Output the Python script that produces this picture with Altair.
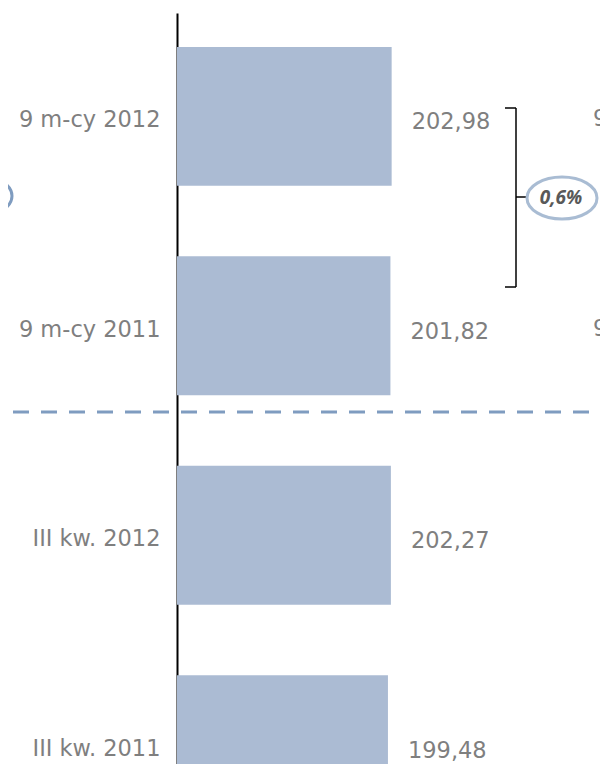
import altair as alt
import pandas as pd

categories = ["9 m-cy 2012", "9 m-cy 2011", "III kw. 2012", "III kw. 2011"]
values = [202.98, 201.82, 202.27, 199.48]
value_labels = ["202,98", "201,82", "202,27", "199,48"]
change_label = ["0,6%"]
side_categories = ["9 m-cy 2012", "9 m-cy 2011"]  # neighbouring panel, cut off on the right

df = pd.DataFrame({"cat": categories, "val": values, "lab": value_labels})
side_df = pd.DataFrame({"cat": side_categories, "lab": side_categories})
one = pd.DataFrame({"k": [0]})
chg_df = pd.DataFrame({"lab": change_label})

FONT = "DejaVu Sans"
GREY = "#7f7f7f"
BAR = "#abbbd3"


def yenc():
    return alt.Y(
        "cat:N", sort=categories, title=None,
        scale=alt.Scale(domain=categories, range=[0, 835], paddingInner=0.3365, paddingOuter=0.162),
        axis=alt.Axis(domainColor="black", domainWidth=2, ticks=False, grid=False,
                      labelFont=FONT, labelFontSize=22.5, labelColor=GREY,
                      labelPadding=17, labelOffset=4),
    )


xenc = alt.X("val:Q", scale=alt.Scale(domain=[0, 400]), axis=None)

bars = alt.Chart(df).mark_bar(color=BAR).encode(x=xenc, y=yenc())

vals = alt.Chart(df).mark_text(align="left", baseline="middle", dx=20, dy=6,
                               font=FONT, fontSize=22.5, color=GREY).encode(
    x=xenc, y=yenc(), text="lab:N")

side = alt.Chart(side_df).mark_text(align="left", baseline="middle", dy=3,
                                    font=FONT, fontSize=22.5, color=GREY).encode(
    x=alt.value(416), y=yenc(), text="lab:N")

dash = alt.Chart(one).mark_rule(strokeDash=[16, 12], strokeWidth=3, color="#7f9cc0").encode(
    x=alt.value(-192), x2=alt.value(431), y=alt.value(399))

brace_kw = dict(color="black", strokeWidth=1.5)
b1 = alt.Chart(one).mark_rule(**brace_kw).encode(x=alt.value(328), x2=alt.value(339), y=alt.value(95))
b2 = alt.Chart(one).mark_rule(**brace_kw).encode(x=alt.value(339), y=alt.value(95), y2=alt.value(274))
b3 = alt.Chart(one).mark_rule(**brace_kw).encode(x=alt.value(328), x2=alt.value(339), y=alt.value(274))
b4 = alt.Chart(one).mark_rule(**brace_kw).encode(x=alt.value(339), x2=alt.value(350), y=alt.value(184))

ELL = "M -1 0 A 1 0.6 0 1 0 1 0 A 1 0.6 0 1 0 -1 0 Z"
ell = alt.Chart(one).mark_point(shape=ELL, size=4900, filled=False, color="#a9bcd3",
                                strokeWidth=3, opacity=1).encode(
    x=alt.value(385), y=alt.value(185))
ell_left = alt.Chart(one).mark_point(shape=ELL, size=4900, filled=False, color="#7f9cc0",
                                     strokeWidth=3, opacity=1).encode(
    x=alt.value(-200), y=alt.value(183))
chg = alt.Chart(chg_df).mark_text(font="Open Sans", fontSize=19, fontWeight="bold",
                                  fontStyle="italic", color="#595959",
                                  align="center", baseline="middle").encode(
    x=alt.value(384), y=alt.value(185), text="lab:N")

chart = alt.layer(bars, vals, side, dash, b1, b2, b3, b4, ell, ell_left, chg).properties(
    width=423, height=751,
    autosize=alt.AutoSizeParams(type="none"),
    padding={"left": 169, "top": 5, "right": 0, "bottom": 0},
    background="white",
).configure_view(stroke=None)

chart.save("out.html", embed_options={"renderer": "svg", "actions": False})
